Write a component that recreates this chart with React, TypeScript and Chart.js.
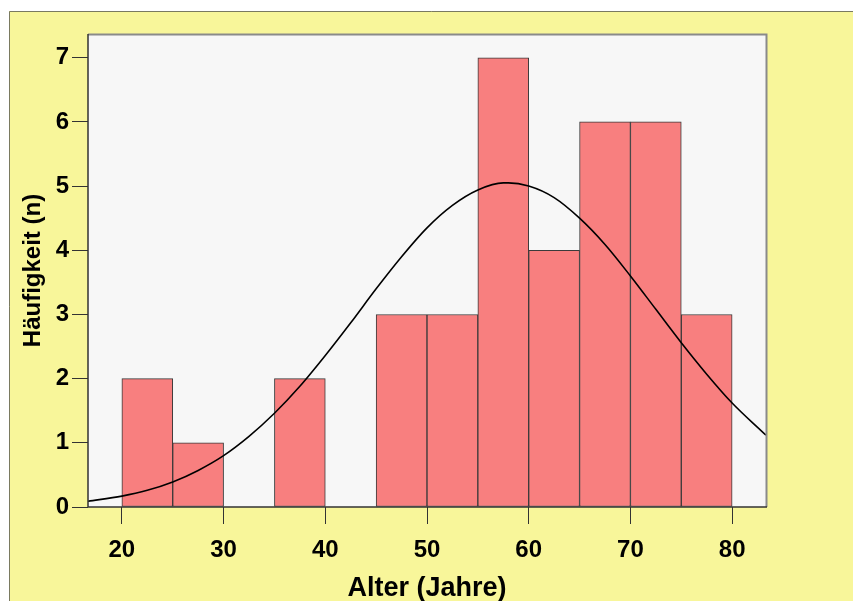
import React, { useEffect, useRef } from "react";
import { Chart, registerables } from "chart.js";

Chart.register(...registerables);

// Histogram bins (centers, in years) and counts
const binCenters = [22.5, 27.5, 32.5, 37.5, 42.5, 47.5, 52.5, 57.5, 62.5, 67.5, 72.5, 77.5];
const binCounts = [2, 1, 0, 2, 0, 3, 3, 7, 4, 6, 6, 3];

// Normal curve
const curveX = [16.67, 20, 22.5, 25, 27.5, 30, 32.5, 35, 37.5, 40, 42.5, 45, 47.5, 50, 52.5, 55, 57.5, 58, 60, 62.5, 65, 67.5, 70, 72.5, 75, 77.5, 80, 82.5, 83.33];
const curveY = [0.09, 0.17, 0.26, 0.39, 0.57, 0.8, 1.1, 1.46, 1.88, 2.36, 2.87, 3.4, 3.9, 4.35, 4.7, 4.94, 5.05, 5.05, 5.0, 4.82, 4.5, 4.09, 3.6, 3.08, 2.56, 2.07, 1.62, 1.24, 1.12];

const xTicks = [20, 30, 40, 50, 60, 70, 80];
const yTicks = [0, 1, 2, 3, 4, 5, 6, 7];

const xTitle = "Alter (Jahre)";
const yTitle = "Häufigkeit (n)";

const FONT = "'Liberation Sans', Arial, sans-serif";

const bgPlugin = {
  id: "bgPlugin",
  beforeDraw(chart: any) {
    const { ctx, chartArea } = chart;
    ctx.save();
    ctx.fillStyle = "#ffffff";
    ctx.fillRect(0, 0, chart.width, chart.height);
    ctx.fillStyle = "#f8f69a";
    ctx.fillRect(9, 11, chart.width - 9, chart.height - 11);
    ctx.strokeStyle = "#7a7a60";
    ctx.lineWidth = 1;
    ctx.beginPath();
    ctx.moveTo(9.5, chart.height);
    ctx.lineTo(9.5, 11.5);
    ctx.lineTo(chart.width, 11.5);
    ctx.stroke();
    ctx.fillStyle = "#f7f7f7";
    ctx.fillRect(chartArea.left, chartArea.top, chartArea.right - chartArea.left, chartArea.bottom - chartArea.top);
    ctx.restore();
  },
  afterDatasetsDraw(chart: any) {
    const { ctx, chartArea } = chart;
    ctx.save();
    ctx.strokeStyle = "#8a8a8a";
    ctx.lineWidth = 2;
    ctx.beginPath();
    ctx.moveTo(chartArea.left, chartArea.top + 0.5);
    ctx.lineTo(chartArea.right + 0.5, chartArea.top + 0.5);
    ctx.lineTo(chartArea.right + 0.5, chartArea.bottom);
    ctx.stroke();
    ctx.strokeStyle = "#333333";
    ctx.lineWidth = 1.5;
    ctx.beginPath();
    ctx.moveTo(chartArea.left, chartArea.top);
    ctx.lineTo(chartArea.left, chartArea.bottom);
    ctx.lineTo(chartArea.right + 1, chartArea.bottom);
    ctx.stroke();
    ctx.restore();
  },
};

export default function App() {
  const ref = useRef<HTMLCanvasElement>(null);

  useEffect(() => {
    if (!ref.current) return;
    const chart = new Chart(ref.current, {
      type: "bar",
      data: {
        datasets: [
          {
            type: "line",
            data: curveX.map((x, i) => ({ x, y: curveY[i] })),
            borderColor: "#000000",
            borderWidth: 1.6,
            pointRadius: 0,
            cubicInterpolationMode: "monotone",
            fill: false,
            order: 0,
          } as any,
          {
            type: "bar",
            data: binCenters.map((x, i) => ({ x, y: binCounts[i] })),
            backgroundColor: "#f87f7f",
            borderColor: "#3a3a3a",
            borderWidth: 1,
            borderSkipped: false,
            barPercentage: 1,
            categoryPercentage: 1,
            order: 1,
          } as any,
        ],
      },
      options: {
        animation: false,
        responsive: false,
        devicePixelRatio: 1,
        layout: { padding: { left: 0, top: 34, right: 87, bottom: 0 } },
        plugins: { legend: { display: false }, tooltip: { enabled: false } },
        scales: {
          x: {
            type: "linear",
            min: 16.67,
            max: 83.33,
            offset: false,
            afterBuildTicks: (s: any) => {
              s.ticks = xTicks.map((v) => ({ value: v }));
            },
            afterFit: (s: any) => {
              s.height = 94;
            },
            grid: { offset: false, drawOnChartArea: false, drawTicks: true, tickLength: 17, color: "#333333", lineWidth: 1 },
            border: { display: false },
            ticks: { color: "#000", font: { family: FONT, size: 24, weight: "bold" }, padding: 12, maxRotation: 0, autoSkip: false },
            title: { display: true, text: xTitle, color: "#000", font: { family: FONT, size: 27, weight: "bold" }, padding: { top: 0, bottom: -4 } },
          },
          y: {
            type: "linear",
            min: 0,
            max: 7.37,
            afterBuildTicks: (s: any) => {
              s.ticks = yTicks.map((v) => ({ value: v }));
            },
            afterFit: (s: any) => {
              s.width = 88;
            },
            grid: { offset: false, drawOnChartArea: false, drawTicks: true, tickLength: 16, color: "#333333", lineWidth: 1 },
            border: { display: false },
            ticks: { color: "#000", font: { family: FONT, size: 24, weight: "bold" }, padding: 3, autoSkip: false },
            title: { display: true, text: yTitle, color: "#000", font: { family: FONT, size: 24, weight: "bold" }, padding: { top: 19, bottom: 0 } },
          },
        },
      },
      plugins: [bgPlugin],
    });
    return () => chart.destroy();
  }, []);

  return (
    <canvas
      ref={ref}
      width={853}
      height={601}
      style={{ position: "fixed", left: 0, top: 0, width: 853, height: 601, display: "block" }}
    />
  );
}
